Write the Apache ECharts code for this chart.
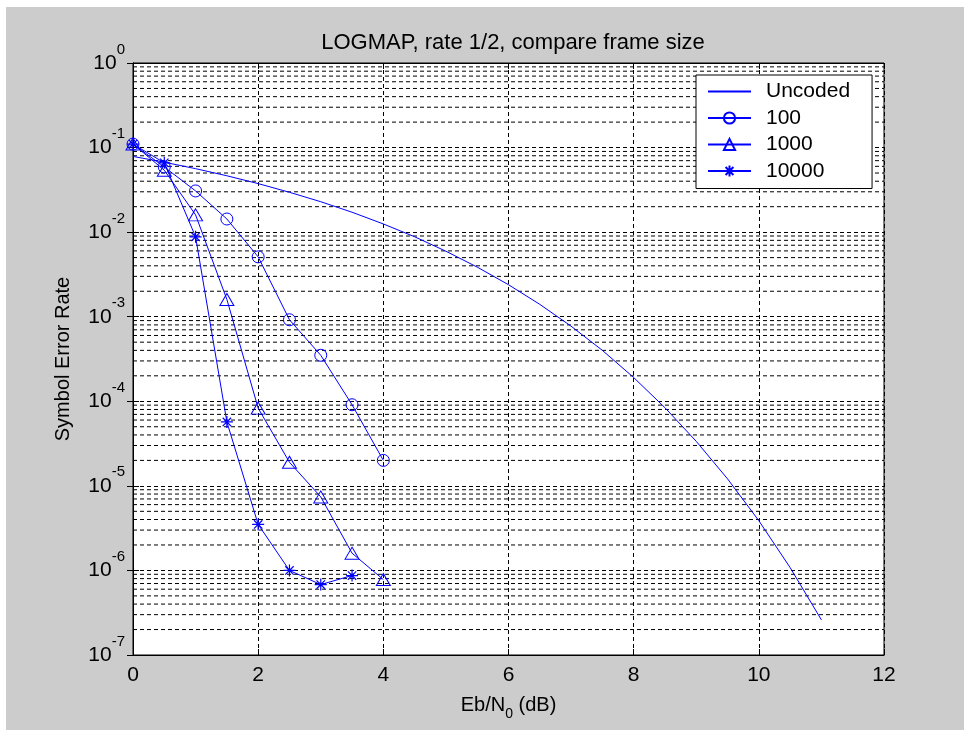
<!DOCTYPE html>
<html>
<head>
<meta charset="utf-8">
<script src="https://cdn.jsdelivr.net/npm/echarts@6/dist/echarts.min.js"></script>
<style>
html,body{margin:0;padding:0;background:#ffffff;}
#chart{width:969px;height:730px;}
</style>
</head>
<body>
<div id="chart"></div>
<script>
// ---- data ----
var seriesNames = ['Uncoded', '100', '1000', '10000'];
var xTicks = [0, 2, 4, 6, 8, 10, 12];
var uncodedX = [0, 0.5, 1, 1.5, 2, 2.5, 3, 3.5, 4, 4.5, 5, 5.5, 6, 6.5, 7, 7.5, 8, 8.5, 9, 9.5, 10, 10.5, 11];
var uncodedY = [0.0786, 0.0671, 0.0563, 0.0464, 0.0375, 0.0296, 0.0229, 0.0172, 0.0125, 0.00882, 0.00595, 0.00386, 0.00239, 0.0014, 0.000773, 0.0004, 0.000191, 0.000084, 0.0000336, 0.0000121, 0.00000387, 0.00000108, 0.00000026];
var codedX = [0, 0.5, 1, 1.5, 2, 2.5, 3, 3.5, 4];
var frame100 = [0.11, 0.059, 0.0307, 0.0143, 0.0051, 0.00092, 0.00035, 0.000091, 0.00002];
var frame1000 = [0.11, 0.054, 0.016, 0.0016, 0.000083, 0.000019, 0.0000074, 0.0000016, 0.00000078];
var frame10000 = [0.11, 0.066, 0.0088, 0.000057, 0.0000035, 0.000001, 0.00000068, 0.00000087];

function pairs(xs, ys) {
  var out = [];
  for (var i = 0; i < ys.length; i++) out.push([xs[i], ys[i]]);
  return out;
}
// minor log grid positions (2..9 x 10^d)
var minorGrid = [];
for (var d = -7; d <= -1; d++) {
  for (var k = 2; k <= 9; k++) minorGrid.push([0, k * Math.pow(10, d)]);
}

var BLUE = '#0000ff';
var FONT = 'Liberation Sans, Arial, sans-serif';
var starPath = 'path://M0,-6L0,6M-6,0L6,0M-4.2,-4.2L4.2,4.2M-4.2,4.2L4.2,-4.2';
var dash = [4, 3];
var X_MIN = 0, X_MAX = 12;

var chart = echarts.init(document.getElementById('chart'), null, { renderer: 'canvas' });
var option = {
  backgroundColor: '#ffffff',
  animation: false,
  textStyle: { fontFamily: FONT },
  graphic: [{
    type: 'rect', z: -100, silent: true,
    shape: { x: 6, y: 7, width: 958, height: 723 },
    style: { fill: '#cccccc' }
  }],
  title: {
    text: 'LOGMAP, rate 1/2, compare frame size',
    left: 508, top: 27, textAlign: 'center',
    textStyle: { fontFamily: FONT, fontSize: 22, fontWeight: 'normal', color: '#000' }
  },
  legend: {
    orient: 'vertical',
    left: 696, top: 75,
    padding: [6, 22, 7, 11],
    itemWidth: 43, itemHeight: 14, itemGap: 5.5,
    backgroundColor: '#ffffff', borderColor: '#000', borderWidth: 1,
    textStyle: { fontFamily: FONT, fontSize: 21, color: '#000', lineHeight: 20, padding: [0, 0, 0, 10] },
    data: seriesNames
  },
  grid: {
    left: 133, right: 85, top: 63, bottom: 75,
    show: true, backgroundColor: '#ffffff', borderColor: '#000', borderWidth: 1
  },
  xAxis: [{
    type: 'value', min: X_MIN, max: X_MAX, interval: 2,
    axisLine: { show: true, lineStyle: { color: '#000', width: 1 } },
    axisTick: { inside: true, length: 6, lineStyle: { color: '#000' } },
    axisLabel: { fontFamily: FONT, fontSize: 21, color: '#000', margin: 10 },
    splitLine: { show: true, lineStyle: { color: '#000', type: dash, width: 1 } },
    name: 'Eb/N{sub|0} (dB)', nameLocation: 'middle', nameGap: 33,
    nameTextStyle: {
      fontFamily: FONT, fontSize: 20, color: '#000',
      rich: {
        sub: { fontFamily: FONT, fontSize: 14, color: '#000', lineHeight: 14, verticalAlign: 'bottom' }
      },
      lineHeight: 30
    }
  }, {
    type: 'value', min: X_MIN, max: X_MAX, interval: 2, position: 'top',
    axisLine: { show: true, lineStyle: { color: '#000' } },
    axisTick: { inside: true, length: 6, lineStyle: { color: '#000' } },
    axisLabel: { show: false }, splitLine: { show: false }
  }],
  yAxis: [{
    type: 'log', logBase: 10, min: 1e-7, max: 1,
    axisLine: { show: true, lineStyle: { color: '#000', width: 1 } },
    axisTick: { inside: true, length: 6, lineStyle: { color: '#000' } },
    splitLine: { show: true, lineStyle: { color: '#000', type: dash, width: 1 } },
    axisLabel: {
      margin: 8, color: '#000',
      formatter: function (v) {
        var e = Math.round(Math.log10(v));
        return '{b|10}{s|' + e + '}';
      },
      rich: {
        b: { fontFamily: FONT, fontSize: 21, color: '#000', lineHeight: 42, verticalAlign: 'middle' },
        s: { fontFamily: FONT, fontSize: 15, color: '#000', lineHeight: 16, verticalAlign: 'top' }
      }
    },
    name: 'Symbol Error Rate', nameLocation: 'middle', nameGap: 60,
    nameTextStyle: { fontFamily: FONT, fontSize: 20, color: '#000' }
  }, {
    type: 'log', logBase: 10, min: 1e-7, max: 1, position: 'right',
    axisLine: { show: true, lineStyle: { color: '#000' } },
    axisTick: { inside: true, length: 6, lineStyle: { color: '#000' } },
    axisLabel: { show: false }, splitLine: { show: false }
  }],
  series: [{
    name: 'minorGrid', type: 'custom', silent: true, z: 1,
    xAxisIndex: 0, yAxisIndex: 0,
    data: minorGrid,
    renderItem: function (params, api) {
      var v = api.value(1);
      var p1 = api.coord([X_MIN, v]);
      var p2 = api.coord([X_MAX, v]);
      return {
        type: 'line',
        shape: { x1: p1[0], y1: p1[1], x2: p2[0], y2: p2[1] },
        style: { stroke: '#000', lineWidth: 1, lineDash: dash }
      };
    }
  }, {
    name: 'Uncoded', type: 'line', data: pairs(uncodedX, uncodedY),
    showSymbol: false, symbol: 'circle', symbolSize: 1,
    lineStyle: { color: BLUE, width: 1 },
    itemStyle: { color: 'rgba(0,0,0,0)', borderColor: 'rgba(0,0,0,0)', borderWidth: 0 },
    z: 5
  }, {
    name: '100', type: 'line', data: pairs(codedX, frame100),
    symbol: 'circle', symbolSize: 12,
    lineStyle: { color: BLUE, width: 1 },
    itemStyle: { color: 'rgba(0,0,0,0)', borderColor: BLUE, borderWidth: 1 },
    z: 5
  }, {
    name: '1000', type: 'line', data: pairs(codedX, frame1000),
    symbol: 'triangle', symbolSize: [14, 12],
    lineStyle: { color: BLUE, width: 1 },
    itemStyle: { color: 'rgba(0,0,0,0)', borderColor: BLUE, borderWidth: 1 },
    z: 5
  }, {
    name: '10000', type: 'line', data: pairs(codedX, frame10000),
    symbol: starPath, symbolSize: 12,
    lineStyle: { color: BLUE, width: 1 },
    itemStyle: { color: 'rgba(0,0,0,0)', borderColor: BLUE, borderWidth: 1.2 },
    z: 5
  }]
};
chart.setOption(option);
</script>
</body>
</html>
